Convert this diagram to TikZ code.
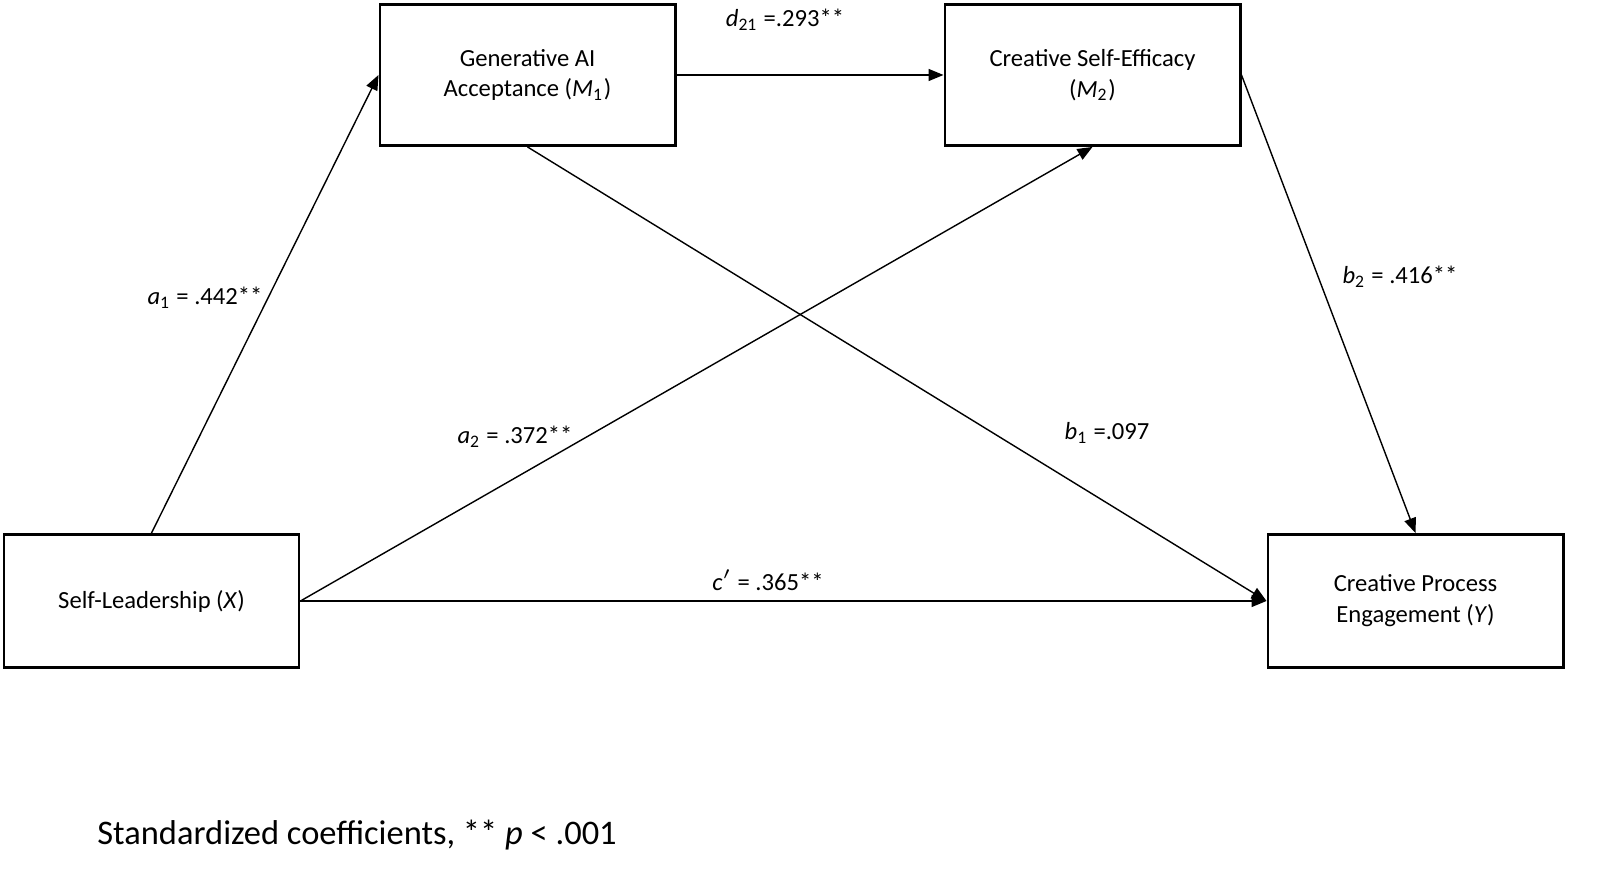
\documentclass[tikz,border=0pt]{standalone}
\usepackage{fontspec}
\setmainfont{Carlito}
\usetikzlibrary{arrows.meta, positioning}

\begin{document}
\begin{tikzpicture}[x=0.01cm, y=-0.01cm,
        var/.style={draw, thick, minimum width=2.95cm, minimum height=1.33cm, align=center, font=\fontsize{7}{8.8}\selectfont},
        path/.style={draw, -{Triangle[length=1.5mm, width=1.2mm]}},
        coef/.style={font=\fontsize{7}{8}\selectfont}]
    \useasboundingbox (0,0) rectangle (1600,877);
    % variables
    \node[var] (x) at (151.5, 601) {Self-Leadership (\textit{X})};
    \node[var, minimum height=1.41cm] (m1) at (527.5, 75) {Generative AI\\Acceptance (\textit{M}\textsubscript{1})};
    \node[var, minimum height=1.41cm] (m2) at (1092.5, 75) {Creative Self-Efficacy\\(\textit{M}\textsubscript{2})};
    \node[var] (y) at (1415.5, 601) {Creative Process\\Engagement (\textit{Y})};
    % paths
    \draw[path] (x.north) -- (m1.west);
    \draw[path] (x.east) -- (m2.south);
    \draw[path] (x.east) -- (y.west);
    \draw[path] (m1.south) -- (y.west);
    \draw[path] (m1.east) -- (m2.west);
    \draw[path] (m2.east) -- (y.north);
    % coefficients
    \node[coef] (ca1) at (205, 298) {\textit{a}\textsubscript{1} = .442**};
    \node[coef] (ca2) at (515, 437) {\textit{a}\textsubscript{2} = .372**};
    \node[coef] (cd) at (785, 20) {\textit{d}\textsubscript{21} =.293**};
    \node[coef] (cb2) at (1400, 277) {\textit{b}\textsubscript{2} = .416**};
    \node[coef] (cb1) at (1107, 433) {\textit{b}\textsubscript{1} =.097};
    \node[coef] (cc) at (768, 580) {\textit{c}$'$ = .365**};
    \node[anchor=west, font=\fontsize{9.8}{11}\selectfont] (note) at (85, 835) {Standardized coefficients, ** \textit{p} < .001};
\end{tikzpicture}
\end{document}
